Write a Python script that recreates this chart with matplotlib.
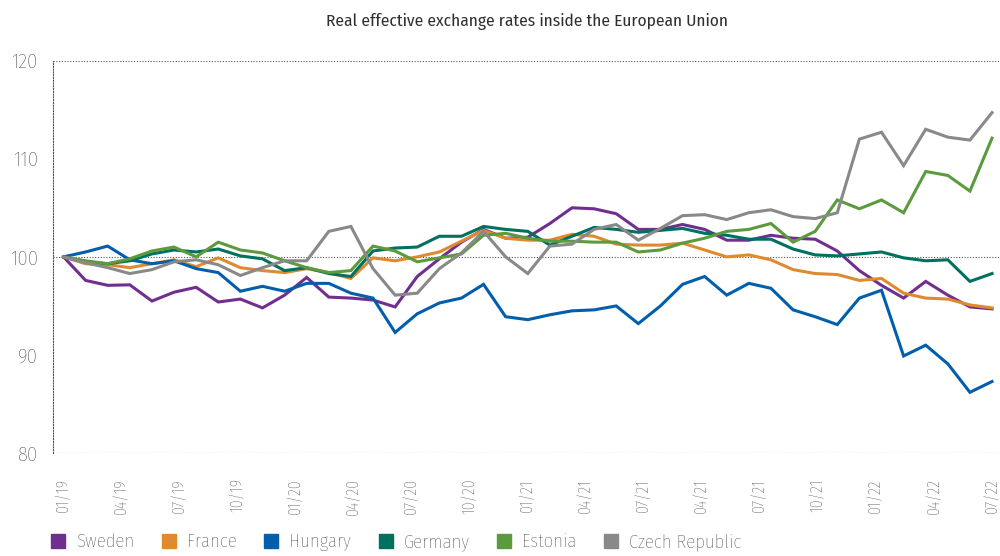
import matplotlib
matplotlib.use('Agg')
import matplotlib.pyplot as plt
from matplotlib.lines import Line2D
import numpy as np

plt.rcParams['font.family'] = ['Fira Sans Condensed', 'Roboto Condensed', 'DejaVu Sans']
plt.rcParams['font.weight'] = 'light'

# Monthly index values (01/19 .. 07/22)
sweden = [100, 97.6, 97.1, 97.15, 95.5, 96.4, 96.9, 95.4, 95.7, 94.8, 96.1, 97.9,
          95.9, 95.8, 95.6, 94.9, 98.0, 99.8, 101.5, 102.8, 101.9, 102.0, 103.4, 105.0,
          104.9, 104.4, 102.8, 102.8, 103.3, 102.8, 101.7, 101.7, 102.2, 101.9, 101.8, 100.6,
          98.6, 97.1, 95.8, 97.5, 96.1, 94.9, 94.7]
france = [100, 99.3, 99.2, 98.9, 99.3, 99.7, 99.0, 99.9, 98.9, 98.6, 98.4, 98.8,
          98.4, 97.8, 99.9, 99.6, 100.0, 100.5, 101.6, 102.7, 101.9, 101.7, 101.7, 102.3,
          102.1, 101.3, 101.2, 101.2, 101.4, 100.7, 100.0, 100.2, 99.7, 98.7, 98.3, 98.2,
          97.6, 97.8, 96.3, 95.8, 95.7, 95.1, 94.8]
hungary = [100, 100.5, 101.1, 99.7, 99.3, 99.6, 98.8, 98.4, 96.5, 97.0, 96.5, 97.3,
           97.3, 96.3, 95.8, 92.3, 94.2, 95.3, 95.8, 97.2, 93.9, 93.6, 94.1, 94.5,
           94.6, 95.0, 93.2, 95.0, 97.2, 98.0, 96.1, 97.3, 96.8, 94.6, 93.9, 93.1,
           95.8, 96.6, 89.9, 91.0, 89.1, 86.2, 87.3]
germany = [100, 99.5, 99.3, 99.6, 100.3, 100.7, 100.5, 100.8, 100.1, 99.8, 98.6, 98.9,
           98.3, 98.0, 100.6, 100.9, 101.0, 102.1, 102.1, 103.1, 102.8, 102.6, 101.2, 102.1,
           103.0, 102.8, 102.5, 102.7, 102.9, 102.4, 102.2, 101.8, 101.8, 100.8, 100.2, 100.1,
           100.3, 100.5, 99.9, 99.6, 99.7, 97.5, 98.3]
estonia = [100, 99.6, 99.3, 99.8, 100.6, 101.0, 100.0, 101.5, 100.7, 100.4, 99.6, 98.9,
           98.4, 98.6, 101.1, 100.6, 99.5, 99.9, 100.3, 102.2, 102.4, 101.9, 101.6, 101.6,
           101.5, 101.5, 100.5, 100.7, 101.4, 101.9, 102.6, 102.8, 103.4, 101.5, 102.6, 105.8,
           104.9, 105.8, 104.5, 108.7, 108.3, 106.7, 112.1]
czech = [100, 99.4, 98.9, 98.3, 98.7, 99.5, 99.7, 99.2, 98.1, 98.9, 99.6, 99.6,
         102.6, 103.1, 98.8, 96.1, 96.3, 98.8, 100.4, 102.6, 100.0, 98.3, 101.1, 101.3,
         102.8, 103.3, 101.7, 102.9, 104.2, 104.3, 103.8, 104.5, 104.8, 104.1, 103.9, 104.5,
         112.0, 112.7, 109.3, 113.0, 112.2, 111.9, 114.7]

countries = ['Sweden', 'France', 'Hungary', 'Germany', 'Estonia', 'Czech Republic']
colors = ['#702F8F', '#DF8A2E', '#005EAD', '#00705F', '#5B9A3D', '#898989']

tick_labels = ['01/19', '04/19', '07/19', '10/19', '01/20', '04/20', '07/20', '10/20',
               '01/21', '04/21', '07/21', '04/21', '07/21', '10/21', '01/22', '04/22', '07/22']

text_col = '#303030'

fig = plt.figure(figsize=(10, 5.56), dpi=100)
ax = fig.add_axes([0.053, 0.185, 0.947, 0.706])

series = [sweden, france, hungary, germany, estonia, czech]
x = np.arange(len(sweden))
for y, c in zip(series, colors):
    ax.plot(x, y, color=c, linewidth=2.2, solid_joinstyle='miter')

ax.set_ylim(80, 120)
ax.set_xlim(-0.475, len(sweden) - 1 + 0.36)
ax.set_yticks([80, 90, 100, 110, 120])
ax.tick_params(axis='y', length=0, pad=11, labelsize=15, labelcolor=text_col)
ax.set_xticks(np.linspace(0, len(sweden) - 1, len(tick_labels)))
ax.set_xticklabels(tick_labels, rotation=90)
ax.tick_params(axis='x', length=0, pad=18, labelsize=11.5, labelcolor=text_col)

for v in [80, 100, 120]:
    ax.axhline(v, color='#555555', linestyle=(0, (1, 1.5)), linewidth=0.8, zorder=0)

for s in ['top', 'right', 'bottom']:
    ax.spines[s].set_visible(False)
ax.spines['left'].set_linestyle((0, (1, 1.5)))
ax.spines['left'].set_linewidth(0.8)
ax.spines['left'].set_color('#555555')

ax.set_title('Real effective exchange rates inside the European Union',
             fontsize=12.5, color=text_col, pad=25)

handles = [Line2D([], [], marker='s', linestyle='none', markersize=10,
                  color=c) for c in colors]
fig.legend(handles, countries, loc='center left', bbox_to_anchor=(0.032, 0.025),
           ncol=6, frameon=False, fontsize=13.5, handletextpad=0.45,
           columnspacing=1.35, labelcolor=text_col, handlelength=1.0)

fig.savefig('out.png', dpi=100)
